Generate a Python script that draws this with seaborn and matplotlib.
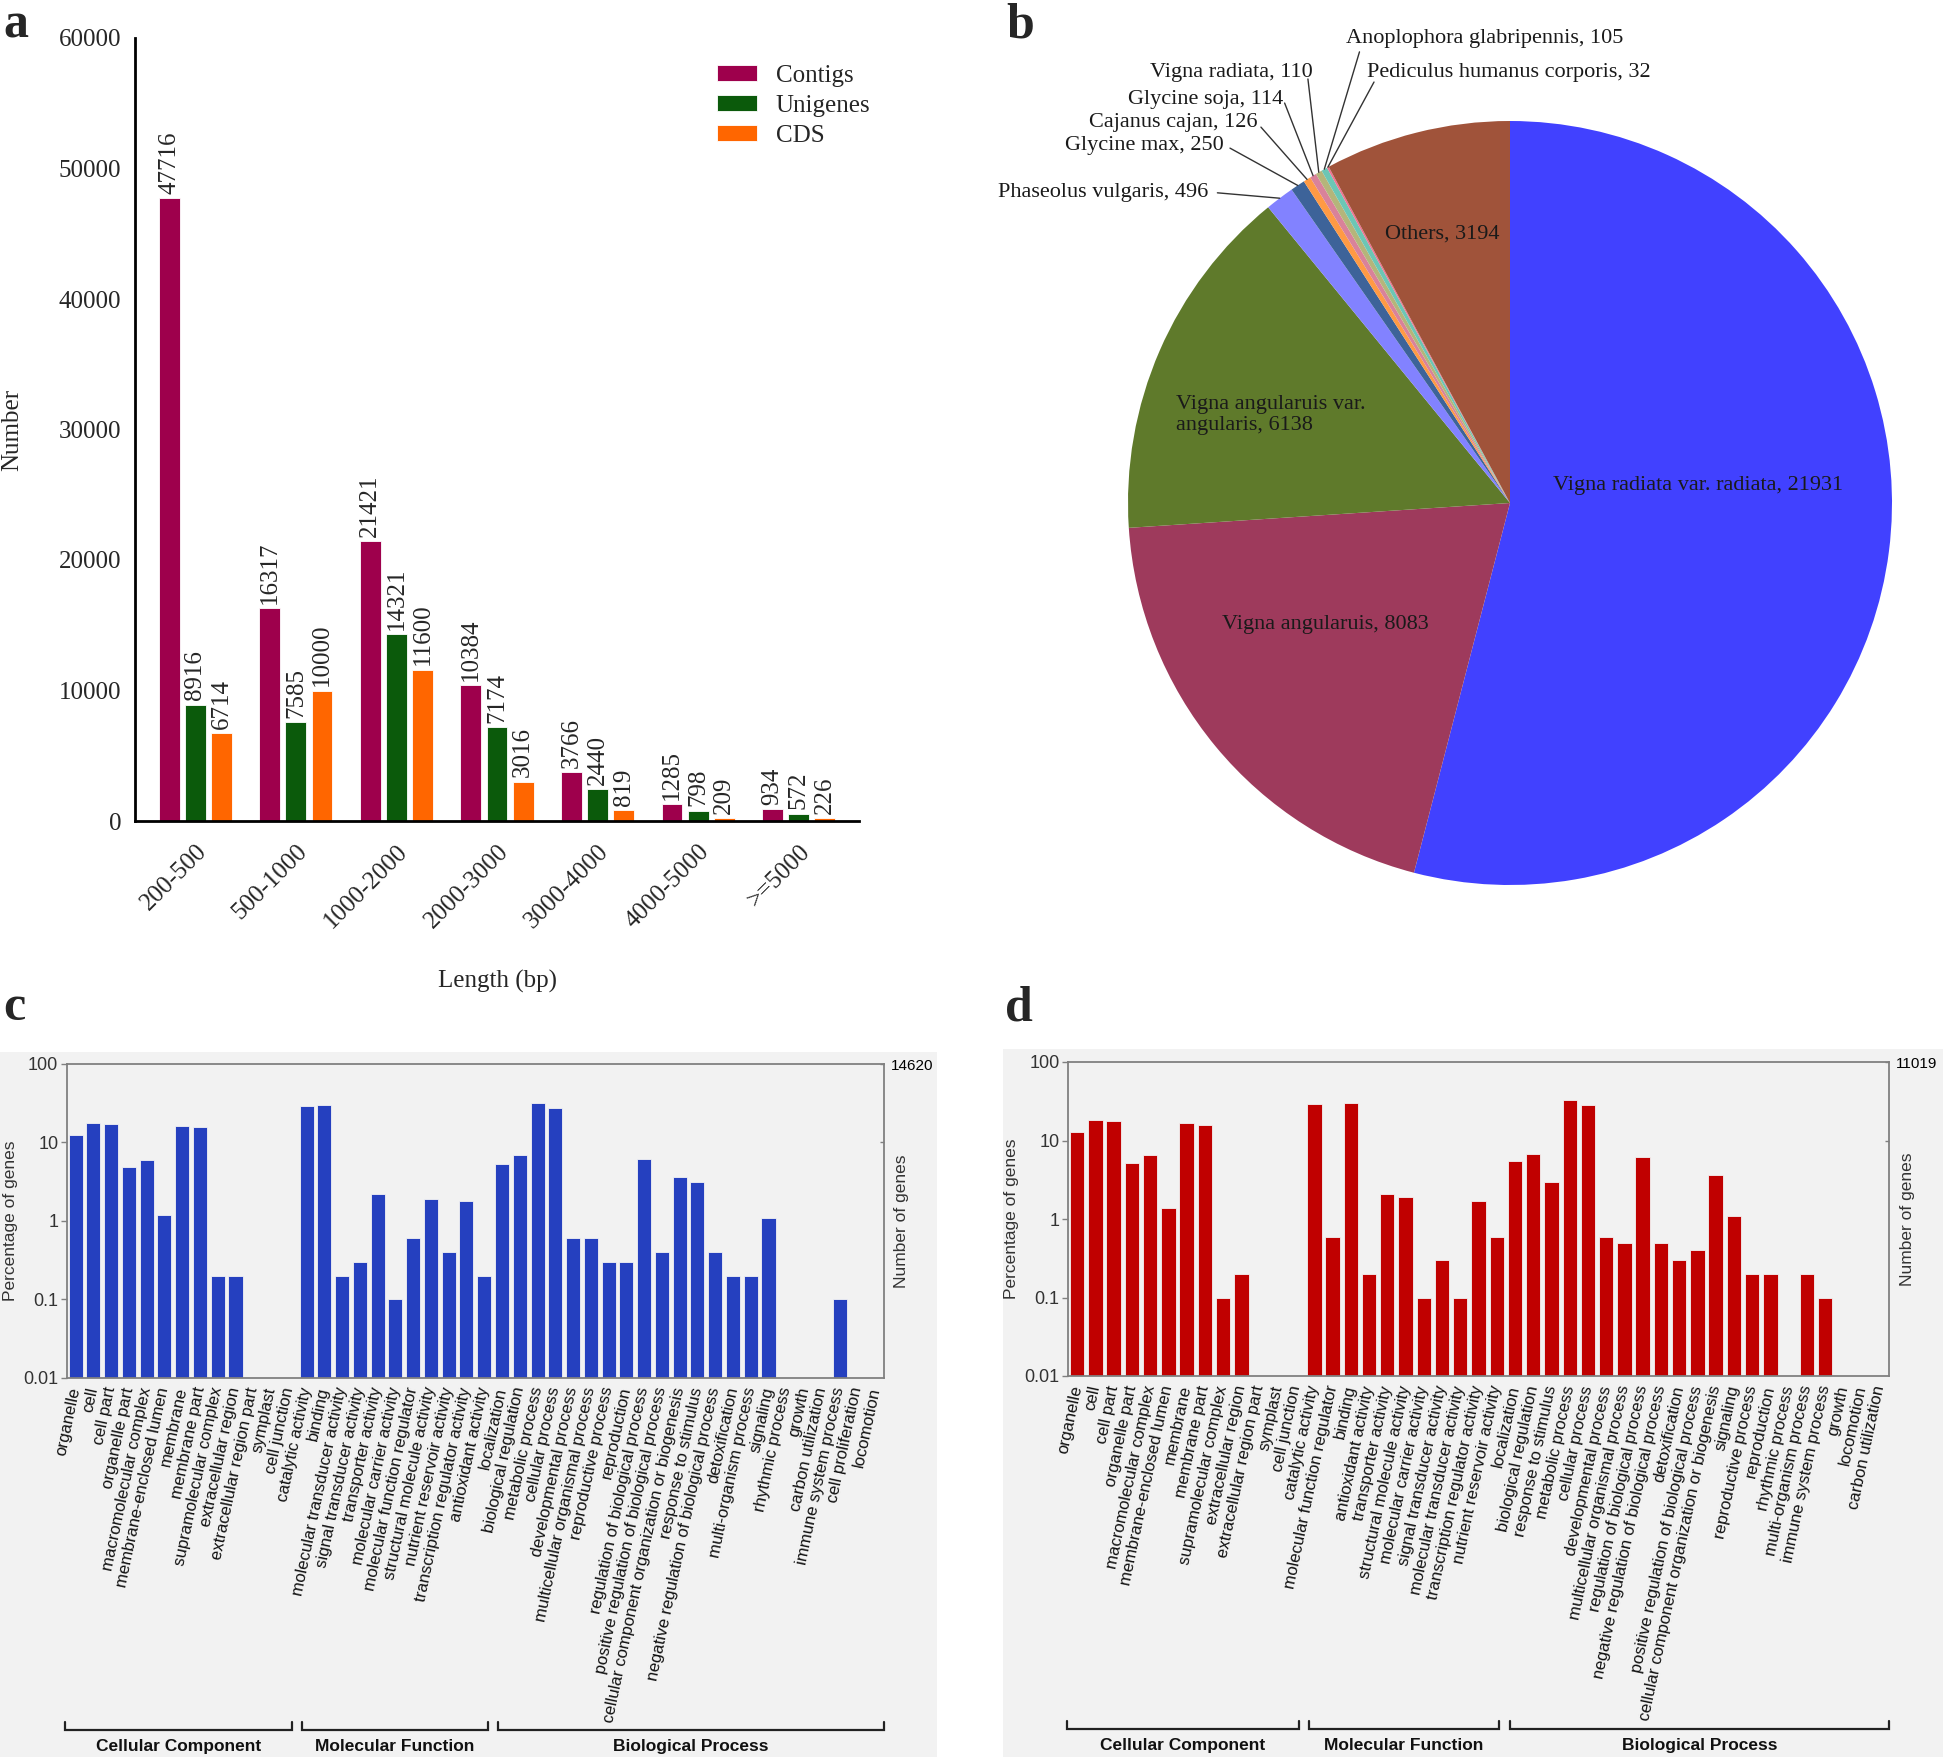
import numpy as np
import pandas as pd
import matplotlib
matplotlib.use("Agg")
import matplotlib.pyplot as plt
import matplotlib.transforms as mtransforms
from matplotlib.patches import Rectangle
from matplotlib.ticker import NullLocator
import seaborn as sns

# ---------------- data: panel a ----------------
length_bins = ["200-500", "500-1000", "1000-2000", "2000-3000", "3000-4000", "4000-5000", ">=5000"]
contigs = [47716, 16317, 21421, 10384, 3766, 1285, 934]
unigenes = [8916, 7585, 14321, 7174, 2440, 798, 572]
cds = [6714, 10000, 11600, 3016, 819, 209, 226]
series_names = ["Contigs", "Unigenes", "CDS"]
series_colors = ["#9E004C", "#0B5A0B", "#FF6600"]
number_ticks = [0, 10000, 20000, 30000, 40000, 50000, 60000]

# ---------------- data: panel b ----------------
species = ["Vigna radiata var. radiata", "Vigna angularuis", "Vigna angularuis var. angularis",
           "Phaseolus vulgaris", "Glycine max", "Cajanus cajan", "Glycine soja", "Vigna radiata",
           "Anoplophora glabripennis", "Pediculus humanus corporis", "Others"]
species_counts = [21931, 8083, 6138, 496, 250, 126, 114, 110, 105, 32, 3194]
species_colors = ["#4141FF", "#9E3A5C", "#5F7A2B", "#8282FF", "#3D6399", "#FF9A45",
                  "#D9829A", "#B5B57A", "#6CC6B5", "#F07090", "#A0533A"]

# ---------------- data: panel c ----------------
c_terms = ["organelle", "cell", "cell part", "organelle part", "macromolecular complex",
           "membrane-enclosed lumen", "membrane", "membrane part", "supramolecular complex",
           "extracellular region", "extracellular region part", "symplast", "cell junction",
           "catalytic activity", "binding", "molecular transducer activity", "signal transducer activity",
           "transporter activity", "molecular carrier activity", "molecular function regulator",
           "structural molecule activity", "nutrient reservoir activity", "transcription regulator activity",
           "antioxidant activity",
           "localization", "biological regulation", "metabolic process", "cellular process",
           "developmental process", "multicellular organismal process", "reproductive process",
           "reproduction", "regulation of biological process", "positive regulation of biological process",
           "cellular component organization or biogenesis", "response to stimulus",
           "negative regulation of biological process", "detoxification", "multi-organism process",
           "signaling", "rhythmic process", "growth", "carbon utilization", "immune system process",
           "cell proliferation", "locomotion"]
c_pct = [12.5, 17.7, 17.0, 4.8, 6.0, 1.2, 16.3, 15.5, 0.2, 0.2, None, None, None,
         29.1, 29.7, 0.2, 0.3, 2.2, 0.1, 0.6, 1.9, 0.4, 1.8, 0.2,
         5.3, 7.0, 32.1, 27.7, 0.6, 0.6, 0.3, 0.3, 6.1, 0.4, 3.6, 3.1, 0.4, 0.2, 0.2,
         1.1, None, None, None, 0.1, None, None]
c_group_sizes = [13, 11, 22]
c_total = "14620"

# ---------------- data: panel d ----------------
d_terms = ["organelle", "cell", "cell part", "organelle part", "macromolecular complex",
           "membrane-enclosed lumen", "membrane", "membrane part", "supramolecular complex",
           "extracellular region", "extracellular region part", "symplast", "cell junction",
           "catalytic activity", "molecular function regulator", "binding", "antioxidant activity",
           "transporter activity", "structural molecule activity", "molecular carrier activity",
           "signal transducer activity", "molecular transducer activity", "transcription regulator activity",
           "nutrient reservoir activity",
           "localization", "biological regulation", "response to stimulus", "metabolic process",
           "cellular process", "developmental process", "multicellular organismal process",
           "regulation of biological process", "negative regulation of biological process",
           "detoxification", "positive regulation of biological process",
           "cellular component organization or biogenesis", "signaling", "reproductive process",
           "reproduction", "rhythmic process", "multi-organism process", "immune system process",
           "growth", "locomotion", "carbon utilization"]
d_pct = [13.0, 18.3, 17.8, 5.15, 6.45, 1.39, 16.6, 15.8, 0.1, 0.2, None, None, None,
         29.5, 0.59, 30.4, 0.2, 2.08, 1.88, 0.1, 0.3, 0.1, 1.68, 0.59,
         5.46, 6.77, 2.98, 32.6, 28.1, 0.59, 0.5, 6.08, 0.5, 0.3, 0.4, 3.66, 1.08,
         0.2, 0.2, None, 0.2, 0.1, None, None, None]
d_group_sizes = [13, 11, 21]
d_total = "11019"

go_groups = ["Cellular Component", "Molecular Function", "Biological Process"]
go_ticks = [0.01, 0.1, 1, 10, 100]
go_ticklabels = ["0.01", "0.1", "1", "10", "100"]

# ---------------- style ----------------
W, H = 1946, 1757
SERIF = "Liberation Serif"
SANS = "Liberation Sans"
sns.set_style("white")
plt.rcParams["font.family"] = [SERIF, "DejaVu Serif"]
plt.rcParams["axes.linewidth"] = 2
GRAY_BG = "#f2f2f2"
SPINE_GRAY = "#808080"

fig = plt.figure(figsize=(W / 100, H / 100), dpi=100)
fig.patch.set_facecolor("white")


def fig_rect(left, top, right, bottom):
    return [left / W, 1 - bottom / H, (right - left) / W, (bottom - top) / H]


# gray panels behind c and d
for (l, t, r) in [(0, 1052, 937), (1003, 1049, 1943)]:
    fig.patches.append(Rectangle((l / W, 0), (r - l) / W, 1 - t / H, transform=fig.transFigure,
                                 facecolor=GRAY_BG, edgecolor="none", zorder=-5))

# ================= panel a =================
ax_a = fig.add_axes(fig_rect(135, 38, 859, 821))
df_len = pd.DataFrame({
    "Length": length_bins * 3,
    "Number": contigs + unigenes + cds,
    "Series": [s for s in series_names for _ in length_bins],
})
sns.barplot(data=df_len, x="Length", y="Number", hue="Series", order=length_bins,
            hue_order=series_names, palette=series_colors, width=0.78, gap=0.2,
            saturation=1, errorbar=None, edgecolor="white", linewidth=0.6, ax=ax_a)
for cont in ax_a.containers:
    ax_a.bar_label(cont, rotation=90, padding=3, fontsize=18, family=SERIF)
ax_a.set_ylim(0, 60000)
ax_a.set_xlim(-0.6, len(length_bins) - 0.4)
ax_a.set_yticks(number_ticks, [str(v) for v in number_ticks], fontsize=18, family=SERIF)
ax_a.set_xticks(range(len(length_bins)), length_bins, rotation=45, ha="right", va="top",
                rotation_mode="anchor", fontsize=18, family=SERIF)
ax_a.tick_params(axis="both", direction="out", length=7, width=2, color="black")
ax_a.tick_params(axis="y", pad=3)
ax_a.tick_params(axis="x", pad=7)
for s in ["top", "right"]:
    ax_a.spines[s].set_visible(False)
for s in ["left", "bottom"]:
    ax_a.spines[s].set_color("black")
    ax_a.spines[s].set_linewidth(2)
ax_a.set_ylabel("Number", fontsize=18, family=SERIF)
ax_a.set_xlabel("Length (bp)", fontsize=18, family=SERIF)
ax_a.yaxis.set_label_coords(-0.155, 0.5)
ax_a.xaxis.set_label_coords(0.5, -0.19)
handles, labels = ax_a.get_legend_handles_labels()
ax_a.legend(handles, labels, loc="upper left", bbox_to_anchor=(0.79, 0.978), frameon=False,
            prop={"family": SERIF, "size": 18}, handlelength=1.6, handleheight=0.6,
            handletextpad=0.75, labelspacing=0.32, borderaxespad=0)
ax_a.set_facecolor("white")
ax_a.grid(False)

# ================= panel b =================
ax_b = fig.add_axes(fig_rect(1510 - 382, 503 - 382, 1510 + 382, 503 + 382))
wedges, _ = ax_b.pie(species_counts, colors=species_colors, startangle=90, counterclock=False,
                     wedgeprops=dict(linewidth=0))
ax_b.set_xlim(-1, 1)
ax_b.set_ylim(-1, 1)
ax_b.set_aspect("equal")
ax_b.axis("off")

# label layout (pie units): x, y, ha, leader start (None = inside label)
pie_layout = {
    "Vigna radiata var. radiata": (0.492, 0.047, "center", None),
    "Vigna angularuis": (-0.484, -0.317, "center", None),
    "Vigna angularuis var. angularis": (-0.874, 0.230, "left", None),
    "Others": (-0.178, 0.704, "center", None),
    "Phaseolus vulgaris": (-0.790, 0.812, "right", (-0.766, 0.812)),
    "Glycine max": (-0.749, 0.935, "right", (-0.733, 0.929)),
    "Cajanus cajan": (-0.660, 0.995, "right", (-0.652, 0.984)),
    "Glycine soja": (-0.594, 1.055, "right", (-0.590, 1.047)),
    "Vigna radiata": (-0.516, 1.126, "right", (-0.529, 1.110)),
    "Anoplophora glabripennis": (-0.429, 1.217, "left", (-0.394, 1.181)),
    "Pediculus humanus corporis": (-0.374, 1.126, "left", (-0.356, 1.102)),
}
pie_breaks = {"Vigna angularuis var. angularis": "Vigna angularuis var.\nangularis"}
for name, count, w in zip(species, species_counts, wedges):
    x, y, ha, lead = pie_layout[name]
    txt = f"{pie_breaks.get(name, name)}, {count}"
    ax_b.text(x, y, txt, ha=ha, va="center", fontsize=16, family=SERIF, color="#1a1a1a",
              linespacing=1.15, clip_on=False)
    if lead is not None:
        mid = np.deg2rad((w.theta1 + w.theta2) / 2)
        ax_b.plot([lead[0], np.cos(mid)], [lead[1], np.sin(mid)], color="#333333", lw=1,
                  clip_on=False)


# ================= panels c, d =================
def go_panel(rect, terms, pct, sizes, color, total, bracket_ends):
    ax = fig.add_axes(rect)
    ax.set_facecolor(GRAY_BG)
    n = len(terms)
    df = pd.DataFrame({"term": terms, "pct": pd.to_numeric(pd.Series(pct, dtype="float"))})
    df = df.dropna()
    sns.barplot(data=df, x="term", y="pct", order=terms, color=color, width=0.79,
                saturation=1, errorbar=None, edgecolor="#f4f4f4",
                linewidth=0.6, ax=ax)
    ax.set_yscale("log")
    ax.set_ylim(0.01, 100)
    ax.set_xlim(-0.5, n - 0.5)
    ax.yaxis.set_minor_locator(NullLocator())
    ax.set_yticks(go_ticks, go_ticklabels, fontsize=13, family=SANS, color="#333333")
    ax.set_xticks(range(n), terms, rotation=78, ha="right", va="center",
                  rotation_mode="anchor", fontsize=12.1, family=SANS, color="#111111")
    ax.set_xticks(np.arange(n + 1) - 0.5, minor=True)
    ax.tick_params(axis="x", which="major", length=0, pad=7)
    ax.tick_params(axis="x", which="minor", length=4, width=1, color=SPINE_GRAY, direction="out")
    ax.tick_params(axis="y", which="major", length=4, width=1, color=SPINE_GRAY,
                   direction="out", pad=2)
    ax.set_xlabel("")
    ax.set_ylabel("")
    for s in ax.spines.values():
        s.set_color(SPINE_GRAY)
        s.set_linewidth(1.3)
        s.set_visible(True)
    ax2 = ax.twinx()
    ax2.set_yscale("log")
    ax2.set_ylim(0.01, 100)
    ax2.yaxis.set_minor_locator(NullLocator())
    ax2.set_yticks([10, 100], ["", total], fontsize=11, family=SANS, color="black")
    ax2.tick_params(axis="y", length=3, width=1, color=SPINE_GRAY, direction="in", pad=5)
    for s in ax2.spines.values():
        s.set_visible(False)
    ax.text(-0.069, 0.5, "Percentage of genes", transform=ax.transAxes, rotation=90,
            ha="center", va="center", fontsize=12.5, family=SANS, color="#333333")
    ax.text(1.022, 0.5, "Number of genes", transform=ax.transAxes, rotation=90,
            ha="center", va="center", fontsize=12.5, family=SANS, color="#333333")
    # group brackets
    trans = mtransforms.blended_transform_factory(ax.transData, ax.transAxes)
    starts = np.cumsum([0] + sizes[:-1])
    for g, (st, sz, (a0, a1)) in enumerate(zip(starts, sizes, bracket_ends)):
        x0 = st + a0
        x1 = st + sz - 1 + a1
        ax.plot([x0, x0, x1, x1], [-1.099, -1.124, -1.124, -1.099], color="#222222", lw=1.6,
                transform=trans, clip_on=False, solid_joinstyle="miter")
        ax.text((x0 + x1) / 2, -1.178, go_groups[g], transform=trans, ha="center", va="center",
                fontsize=12.5, fontweight="bold", family=SANS, color="#111111")
    return ax


go_panel(fig_rect(66.7, 1064, 884, 1377.5), c_terms, c_pct, c_group_sizes, "#2540BF", c_total,
         [(-0.6, 0.18), (-0.26, 0.2), (-0.23, 0.5)])
go_panel(fig_rect(1068, 1062, 1889, 1376), d_terms, d_pct, d_group_sizes, "#C00000", d_total,
         [(-0.55, 0.16), (-0.29, 0.13), (-0.27, 0.5)])

# panel letters
for letter, lx, by in [("a", 3, 38), ("b", 1006, 38), ("c", 3, 1020), ("d", 1005, 1020)]:
    fig.text(lx / W, 1 - by / H, letter, fontsize=36, fontweight="bold", family=SERIF,
             ha="left", va="baseline")

fig.savefig("out.png", dpi=100, facecolor="white")
